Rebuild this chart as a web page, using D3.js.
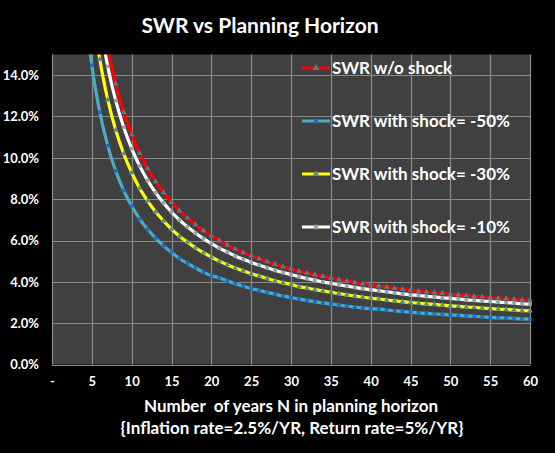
<!DOCTYPE html>
<html>
<head>
<meta charset="utf-8">
<script src="https://cdn.jsdelivr.net/npm/d3@7"></script>
<style>
  body { margin: 0; background: #000; }
  svg { display: block; }
  text { font-family: Lato, "Open Sans", sans-serif; font-weight: bold; fill: #fff; }
</style>
</head>
<body>
<div id="chart"></div>
<script>
// planning horizon N (years) and SWR values in %
const years = d3.range(4, 61);
const swrNoShock = [25.91, 20.98, 17.69, 15.34, 13.58, 12.21, 11.12, 10.22, 9.48, 8.85, 8.32, 7.85, 7.44, 7.09, 6.77, 6.48, 6.23, 5.99, 5.79, 5.59,
  5.42, 5.26, 5.12, 4.98, 4.85, 4.73, 4.63, 4.52, 4.43, 4.34, 4.26, 4.18, 4.11, 4.03, 3.97, 3.90, 3.85, 3.80, 3.74, 3.69,
  3.64, 3.59, 3.55, 3.51, 3.48, 3.44, 3.40, 3.37, 3.33, 3.30, 3.27, 3.24, 3.21, 3.19, 3.16, 3.13, 3.11];
const swrShock50 = [17.88, 14.48, 12.21, 10.58, 9.37, 8.42, 7.67, 7.05, 6.54, 6.11, 5.74, 5.42, 5.13, 4.89, 4.67, 4.47, 4.30, 4.19, 4.05, 3.91,
  3.79, 3.68, 3.58, 3.49, 3.40, 3.31, 3.24, 3.16, 3.10, 3.04, 2.98, 2.93, 2.88, 2.82, 2.78, 2.73, 2.70, 2.68, 2.64, 2.60,
  2.57, 2.53, 2.50, 2.47, 2.45, 2.43, 2.40, 2.38, 2.35, 2.33, 2.31, 2.28, 2.26, 2.25, 2.23, 2.21, 2.20];
const swrShock30 = [21.64, 17.52, 14.77, 12.81, 11.34, 10.20, 9.29, 8.53, 7.92, 7.39, 6.95, 6.55, 6.21, 5.92, 5.65, 5.41, 5.20, 5.00, 4.83, 4.67,
  4.53, 4.39, 4.28, 4.16, 4.05, 3.95, 3.87, 3.77, 3.70, 3.62, 3.56, 3.49, 3.43, 3.37, 3.31, 3.26, 3.21, 3.17, 3.12, 3.08,
  3.04, 3.00, 2.96, 2.93, 2.91, 2.87, 2.84, 2.81, 2.78, 2.76, 2.73, 2.71, 2.68, 2.66, 2.64, 2.61, 2.60];
const swrShock10 = [24.36, 19.72, 16.63, 14.42, 12.77, 11.48, 10.45, 9.61, 8.91, 8.32, 7.82, 7.38, 6.99, 6.66, 6.36, 6.09, 5.86, 5.63, 5.44, 5.25,
  5.09, 4.94, 4.81, 4.68, 4.56, 4.45, 4.35, 4.25, 4.16, 4.08, 4.00, 3.93, 3.86, 3.79, 3.73, 3.67, 3.62, 3.57, 3.52, 3.47,
  3.42, 3.37, 3.34, 3.30, 3.27, 3.23, 3.20, 3.17, 3.13, 3.10, 3.07, 3.05, 3.02, 3.00, 2.97, 2.94, 2.92];

const xTicks = [0, 5, 10, 15, 20, 25, 30, 35, 40, 45, 50, 55, 60];
const yTicks = [0, 2, 4, 6, 8, 10, 12, 14];

const series = [
  { name: "SWR w/o shock", values: swrNoShock, color: "#ff0000", marker: d3.symbolTriangle, mcolor: "#4d7f93" },
  { name: "SWR with shock= -50%", values: swrShock50, color: "#4bacc6", marker: d3.symbolSquare, mcolor: "#1b6fc4" },
  { name: "SWR with shock= -30%", values: swrShock30, color: "#ffff00", marker: d3.symbolTriangle, mcolor: "#5b8a9a" },
  { name: "SWR with shock= -10%", values: swrShock10, color: "#ffffff", marker: d3.symbolSquare, mcolor: "#9aa4a8" }
];

const width = 555, height = 453;
const plot = { left: 52, right: 530, top: 54.5, bottom: 364.5 };

const svg = d3.select("#chart").append("svg")
  .attr("width", width)
  .attr("height", height);

svg.append("rect").attr("width", width).attr("height", height).attr("fill", "#000");

const x = d3.scaleLinear().domain([0, 60]).range([plot.left, plot.right]);
const y = d3.scaleLinear().domain([0, 15]).range([plot.bottom, plot.top]);

svg.append("text")
  .attr("x", 260).attr("y", 33)
  .attr("text-anchor", "middle")
  .style("font-size", "21px")
  .text("SWR vs Planning Horizon");

svg.append("rect")
  .attr("x", plot.left).attr("y", plot.top)
  .attr("width", plot.right - plot.left).attr("height", plot.bottom - plot.top)
  .attr("fill", "#404040");

// gridlines
svg.append("g").selectAll("line")
  .data(yTicks)
  .join("line")
  .attr("x1", plot.left).attr("x2", plot.right)
  .attr("y1", d => Math.round(y(d)) + 0.5).attr("y2", d => Math.round(y(d)) + 0.5)
  .attr("stroke", "#8c8c8c").attr("stroke-width", 1.2);

svg.append("g").selectAll("line")
  .data(xTicks)
  .join("line")
  .attr("x1", d => Math.round(x(d)) + 0.5).attr("x2", d => Math.round(x(d)) + 0.5)
  .attr("y1", plot.top).attr("y2", plot.bottom)
  .attr("stroke", "#8c8c8c").attr("stroke-width", 1.2);

// axes (labels only)
const yAxis = svg.append("g")
  .attr("transform", `translate(${plot.left - 13},0)`)
  .call(d3.axisLeft(y).tickValues(yTicks).tickSize(0).tickFormat(d => d.toFixed(1) + "%"));
yAxis.select(".domain").remove();
yAxis.selectAll("text").attr("x", 0).style("font-size", "13px").attr("fill", "#fff");

const xAxis = svg.append("g")
  .attr("transform", `translate(0,${plot.bottom + 12})`)
  .call(d3.axisBottom(x).tickValues(xTicks).tickSize(0).tickFormat(d => d === 0 ? "-" : d));
xAxis.select(".domain").remove();
xAxis.selectAll("text").attr("y", 0).attr("dy", "0.75em").style("font-size", "13px").attr("fill", "#fff");

svg.append("text")
  .attr("x", 291).attr("y", 412)
  .attr("text-anchor", "middle")
  .style("font-size", "17px")
  .style("white-space", "pre")
  .text("Number  of years N in planning horizon");

svg.append("text")
  .attr("x", 292).attr("y", 434)
  .attr("text-anchor", "middle")
  .style("font-size", "17px")
  .text("{Inflation rate=2.5%/YR, Return rate=5%/YR}");

// series
svg.append("clipPath").attr("id", "clip")
  .append("rect")
  .attr("x", plot.left).attr("y", plot.top)
  .attr("width", plot.right - plot.left + 4).attr("height", plot.bottom - plot.top);

const line = d3.line()
  .x((d, i) => x(years[i]))
  .y(d => y(d))
  .curve(d3.curveMonotoneX);

const gSeries = svg.append("g").attr("clip-path", "url(#clip)");

// draw in this order so red sits at the back like the original
[series[1], series[2], series[3], series[0]].forEach(s => {
  gSeries.append("path")
    .datum(s.values)
    .attr("fill", "none")
    .attr("stroke", s.color)
    .attr("stroke-width", 3.2)
    .attr("d", line);

  gSeries.append("g").selectAll("path")
    .data(s.values)
    .join("path")
    .attr("transform", (d, i) => `translate(${x(years[i])},${y(d)})`)
    .attr("d", d3.symbol().type(s.marker).size(14))
    .attr("fill", s.mcolor);
});

// legend
const legend = svg.append("g");
const legendY = [68, 121, 174, 227];
series.forEach((s, i) => {
  const g = legend.append("g").attr("transform", `translate(302,${legendY[i]})`);
  g.append("line")
    .attr("x1", 0).attr("x2", 28)
    .attr("stroke", s.color).attr("stroke-width", 3);
  g.append("path")
    .attr("transform", "translate(14,0)")
    .attr("d", d3.symbol().type(s.marker).size(20))
    .attr("fill", s.mcolor);
  g.append("text")
    .attr("x", 30).attr("dy", "0.35em")
    .style("font-size", "17px")
    .text(s.name);
});
</script>
</body>
</html>
